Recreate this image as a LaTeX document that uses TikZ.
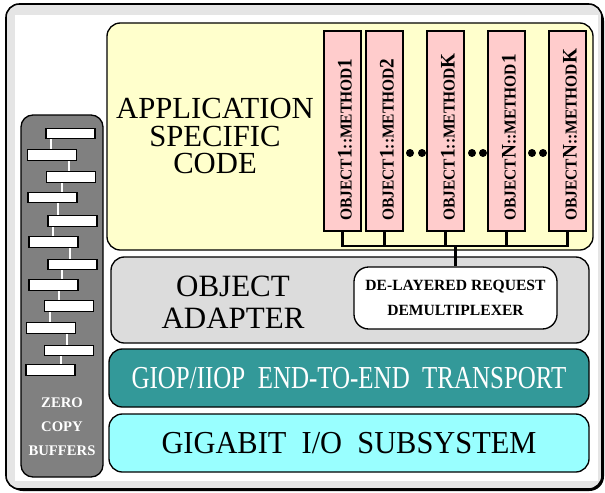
\documentclass[tikz,border=0pt]{standalone}
\usepackage{fontspec}
\setmainfont{Liberation Serif}
\usepackage{graphicx}
\definecolor{appyellow}{HTML}{FFFFCC}
\definecolor{methpink}{HTML}{FFCCCC}
\definecolor{adgray}{HTML}{DCDCDC}
\definecolor{tealbox}{HTML}{339999}
\definecolor{cyanbox}{HTML}{99FFFF}
\definecolor{zgray}{HTML}{808080}
\definecolor{framegray}{HTML}{E5E5E5}
\newcommand{\methtext}[2]{\scalebox{0.93}[1]{{\fontsize{12.5}{12.5}\selectfont OBJECT}{\fontsize{15.5}{15.5}\selectfont #1}{\fontsize{12.5}{12.5}\selectfont ::METHOD}{\fontsize{15.5}{15.5}\selectfont #2}}}
\begin{document}
\begin{tikzpicture}[x=0.75pt,y=-0.75pt,
 layer/.style={draw=black, line width=1pt, rounded corners=10pt, inner sep=0pt},
 methbox/.style={draw=black, line width=1pt, fill=methpink, minimum width=27.75pt, minimum height=150pt, inner sep=0pt},
 methlabel/.style={rotate=90, anchor=west, inner sep=0pt, font=\bfseries},
 buf/.style={draw=black, line width=1pt, fill=white, minimum width=36.75pt, minimum height=7.9pt, inner sep=0pt},
 wline/.style={white, line width=1.2pt},
 bus/.style={line width=2pt},
 dot/.style={circle, fill=black, minimum size=6pt, inner sep=0pt}]
\useasboundingbox (0,0) rectangle (605,492);
% outer frame
\fill[black, rounded corners=11pt] (8,6) rectangle (604,491);
\filldraw[fill=framegray, draw=black, line width=1.2pt, rounded corners=10pt] (6,4) rectangle (602,489);
\fill[white] (15,15) rectangle (598,481);

% zero copy column
\node[layer, fill=zgray, rounded corners=9pt, minimum width=61.5pt, minimum height=271.5pt] (zero) at (62,296) {};
\draw[wline] (51,133.5) -- (51,155);
\draw[wline] (69,155) -- (69,177);
\draw[wline] (62,177) -- (62,197.5);
\draw[wline] (58,197.5) -- (58,221);
\draw[wline] (53,221) -- (53,242);
\draw[wline] (70,242) -- (70,264.5);
\draw[wline] (62,264.5) -- (62,285);
\draw[wline] (59,285) -- (59,306);
\draw[wline] (50,306) -- (50,328);
\draw[wline] (67,328) -- (67,350.5);
\draw[wline] (61,350.5) -- (61,370);
\node[buf] (b1) at (70.5,133.5) {};
\node[buf] (b2) at (52,155) {};
\node[buf] (b3) at (71,177) {};
\node[buf] (b4) at (52.5,197.5) {};
\node[buf] (b5) at (72.5,221) {};
\node[buf] (b6) at (53.5,242) {};
\node[buf] (b7) at (72.5,264.5) {};
\node[buf] (b8) at (53.5,285) {};
\node[buf] (b9) at (69,306) {};
\node[buf] (b10) at (51,328) {};
\node[buf] (b11) at (69,350.5) {};
\node[buf] (b12) at (50.5,370) {};
\node[text=white, font=\bfseries\fontsize{11}{18}\selectfont, align=center] (zct) at (62,427) {ZERO\\COPY\\BUFFERS};

% application layer
\node[layer, fill=appyellow, minimum width=364.5pt, minimum height=170.25pt] (app) at (350,136.5) {};
\node[font=\fontsize{23}{20.5}\selectfont, align=center] (apptext) at (215,136) {APPLICATION\\SPECIFIC\\CODE};

\node[methbox] (m1) at (342.5,131) {};
\node[methbox] (m2) at (384.5,131) {};
\node[methbox] (m3) at (445.5,131) {};
\node[methbox] (m4) at (506.5,131) {};
\node[methbox] (m5) at (567.5,131) {};
\node[methlabel] (t1) at (345,221) {\methtext{1}{1}};
\node[methlabel] (t2) at (387,221) {\methtext{1}{2}};
\node[methlabel] (t3) at (448,221) {\methtext{1}{K}};
\node[methlabel] (t4) at (509,221) {\methtext{N}{1}};
\node[methlabel] (t5) at (570,221) {\methtext{N}{K}};

\node[dot] (d1) at (410,153) {};
\node[dot] (d2) at (422,153) {};
\node[dot] (d3) at (472,153) {};
\node[dot] (d4) at (483,153) {};
\node[dot] (d5) at (532,153) {};
\node[dot] (d6) at (543,153) {};

% object adapter
\node[layer, fill=adgray, minimum width=358.5pt, minimum height=64.5pt] (adapter) at (350,300) {};
\node[font=\fontsize{23.25}{24}\selectfont, align=center] (adtext) at (233,302.5) {OBJECT\\ADAPTER};
\node[layer, fill=white, rounded corners=11pt, minimum width=152.25pt, minimum height=46.5pt, align=center,
      font=\bfseries\fontsize{11.7}{18.75}\selectfont] (demux) at (455.5,298) {DE-LAYERED REQUEST\\DEMULTIPLEXER};

% bus
\coordinate (busy) at (0,246);
\draw[bus] (m1.south) -- (m1.south |- busy) -- (m5.south |- busy) -- (m5.south);
\draw[bus] (m2.south) -- (m2.south |- busy);
\draw[bus] (m3.south) -- (m3.south |- busy);
\draw[bus] (m4.south) -- (m4.south |- busy);
\draw[bus] (demux.north |- busy) -- (demux.north);

% transport and I/O
\node[layer, fill=tealbox, minimum width=360pt, minimum height=43.5pt, text=white,
      font=\fontsize{24}{24}\selectfont] (giop) at (349,378) {\scalebox{0.78}[1]{GIOP/IIOP\ \ END-TO-END\ \ TRANSPORT}};
\node[layer, fill=cyanbox, minimum width=360pt, minimum height=43.5pt,
      font=\fontsize{24}{24}\selectfont] (gig) at (349,443) {\scalebox{0.95}[1]{GIGABIT\ \ I/O\ \ SUBSYSTEM}};
\end{tikzpicture}
\end{document}
